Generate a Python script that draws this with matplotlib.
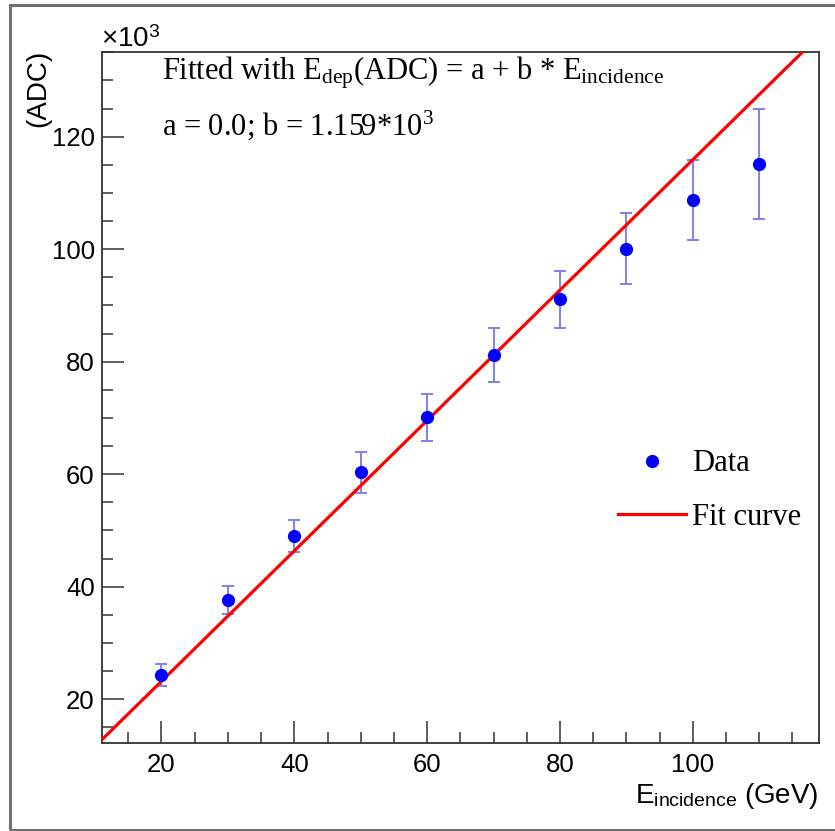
import matplotlib
matplotlib.use("Agg")
import matplotlib.pyplot as plt
import numpy as np
from matplotlib.ticker import MultipleLocator
from matplotlib.patches import Rectangle

# ---- data (ADC values in units of 10^3) ----
energy = [20, 30, 40, 50, 60, 70, 80, 90, 100, 110]
adc = [24.3, 37.7, 49.0, 60.3, 70.1, 81.2, 91.1, 100.1, 108.8, 115.2]
adc_err = [1.9, 2.5, 2.9, 3.6, 4.2, 4.8, 5.1, 6.3, 7.1, 9.8]
fit_a = 0.0
fit_b = 1.159
xlim = (11, 119)
ylim = (12.2, 135.1)
xticks = [20, 40, 60, 80, 100]
yticks = [20, 40, 60, 80, 100, 120]

plt.rcParams['mathtext.fontset'] = 'custom'
plt.rcParams['mathtext.rm'] = 'Liberation Serif'
plt.rcParams['mathtext.it'] = 'Liberation Serif:italic'
plt.rcParams['mathtext.sf'] = 'Liberation Sans'

W, H = 835, 831
fig = plt.figure(figsize=(W / 100, H / 100), dpi=100)

# outer gray frame
fig.patches.append(Rectangle((10 / W, (H - 829.5) / H), 1.0, (829.5 - 5.3) / H,
                             transform=fig.transFigure, fill=False,
                             edgecolor='#707070', linewidth=2.2))

ax = fig.add_axes([101.7 / W, (H - 743) / H, (819 - 101.7) / W, (743 - 51.7) / H])

ax.set_xlim(*xlim)
ax.set_ylim(*ylim)

# fit curve
fx = np.array(xlim, dtype=float)
fy = fit_a + fit_b * fx
ax.plot(fx, fy, color='#ff0000', linewidth=2.3, label='Fit curve', zorder=3)

# data
ax.errorbar(energy, adc, yerr=adc_err, fmt='none', ecolor='#8080f0',
            elinewidth=1.4, capsize=4.5, capthick=1.4, zorder=2)
ax.plot(energy, adc, 'o', color='#0000ff', markersize=8.5, label='Data',
        zorder=4, linestyle='none')

for s in ax.spines.values():
    s.set_color('#333333')
    s.set_linewidth(1.3)

ax.set_xticks(xticks)
ax.set_yticks(yticks)
ax.xaxis.set_minor_locator(MultipleLocator(5))
ax.yaxis.set_minor_locator(MultipleLocator(5))
ax.tick_params(which='both', direction='in', top=False, right=False,
               color='#333333', width=1.1)
ax.tick_params(which='major', length=15.5, labelsize=18.5)
ax.tick_params(which='minor', length=8)
ax.tick_params(axis='x', which='major', pad=7)
ax.tick_params(axis='y', which='major', pad=5)
for lab in ax.get_xticklabels() + ax.get_yticklabels():
    lab.set_family('Liberation Sans')

# axis titles
fig.text(819 / W, (H - 803) / H, r'E$_{\mathsf{incidence}}$ (GeV)',
         family='Liberation Sans', fontsize=20, ha='right', va='baseline')
fig.text(38 / W, (H - 50) / H, '(ADC)', family='Liberation Sans', fontsize=20,
         rotation=90, ha='center', va='top')
fig.text(101 / W, (H - 47) / H, r'×10$^{\mathsf{3}}$', family='Liberation Sans',
         fontsize=20, ha='left', va='baseline')

# fit annotation
ax.text(0.084, 0.9605,
        r'Fitted with E$_{\mathrm{dep}}$(ADC) = a + b * E$_{\mathrm{incidence}}$',
        transform=ax.transAxes, family='Liberation Serif', fontsize=22,
        ha='left', va='baseline')
ax.text(0.084, 0.8795, r'a = 0.0; b = 1.159*10$^{\mathrm{3}}$',
        transform=ax.transAxes, family='Liberation Serif', fontsize=22,
        ha='left', va='baseline')

handles, labels = ax.get_legend_handles_labels()
order = [labels.index('Data'), labels.index('Fit curve')]
leg = ax.legend([handles[i] for i in order], [labels[i] for i in order],
                frameon=False, loc='center left',
                bbox_to_anchor=((618 - 101.7) / 717.3, (743 - 490.5) / 691.3),
                prop={'family': 'Liberation Serif', 'size': 22},
                handlelength=2.22, handletextpad=0.2, labelspacing=0.8,
                borderaxespad=0, borderpad=0)

fig.savefig('out.png', dpi=100)
